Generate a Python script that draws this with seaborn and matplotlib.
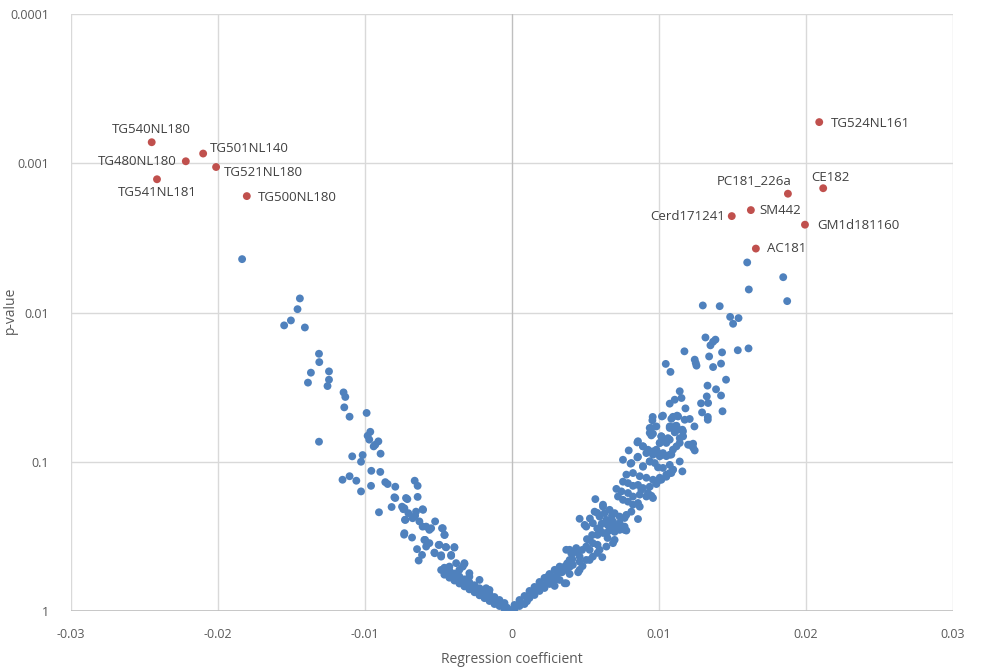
import matplotlib
matplotlib.use("Agg")
import matplotlib.pyplot as plt
import seaborn as sns
import pandas as pd

# ---------------- data ----------------
blue_x = [
    # left branch
    -0.01836, -0.01443, -0.01459, -0.01504, -0.01550, -0.01409, -0.01313, -0.01311, -0.01368, -0.01245,
    -0.01245, -0.01388, -0.01255, -0.01146, -0.01134, -0.01141, -0.01105, -0.00989, -0.01313, -0.00964,
    -0.00982, -0.00971, -0.00909, -0.00930, -0.00941, -0.00894, -0.01087, -0.01016, -0.01027, -0.01153,
    -0.01105, -0.01059, -0.01027, -0.00957, -0.00896, -0.00959, -0.00862, -0.00846, -0.00794, -0.00794,
    -0.00721, -0.00905, -0.00712, -0.00642, -0.00662, -0.00642, -0.00819, -0.00748, -0.00732, -0.00705,
    -0.00728, -0.00605, -0.00659, -0.00630, -0.00608, -0.00523, -0.00550, -0.00476, -0.00458, -0.00734,
    -0.00680, -0.00591, -0.00562, -0.00499, -0.00451, -0.00392, -0.00646, -0.00612, -0.00635, -0.00584,
    -0.00526, -0.00482, -0.00414, -0.00324, -0.00482, -0.00800, -0.00739, -0.00653, -0.00608, -0.00725,
    -0.00676, -0.00584, -0.00562, -0.00471, -0.00732, -0.00596, -0.00494, -0.00460, -0.00392, -0.00528,
    -0.00482, -0.00448, -0.00414, -0.00324, -0.00426, -0.00358, -0.00290, -0.00221, -0.00176, -0.00335,
    -0.00267, -0.00199, -0.00131, -0.00085, -0.00017, -0.00460, -0.00460, -0.00426, -0.00426, -0.00392,
    -0.00392, -0.00358, -0.00358, -0.00324, -0.00324, -0.00290, -0.00290, -0.00255, -0.00255, -0.00221,
    -0.00221, -0.00187, -0.00187, -0.00153, -0.00153, -0.00119, -0.00119, -0.00085, -0.00085, -0.00051,
    -0.00051, -0.00380, -0.00335, -0.00290, -0.00153,
    -0.00443, -0.00410, -0.00375, -0.00340, -0.00306, -0.00272, -0.00238, -0.00204, -0.00170, -0.00136,
    -0.00102, -0.00068, -0.00034, 0.00003,
    # right branch
    0.01600, 0.01845, 0.01611, 0.01872, 0.01298, 0.01413, 0.01484, 0.01541, 0.01504, 0.01316,
    0.01384, 0.01368, 0.01350, 0.01173, 0.01429, 0.01536, 0.01609, 0.01341, 0.01243, 0.01250,
    0.01255, 0.01422, 0.01368, 0.01046, 0.01078, 0.01456, 0.01330, 0.01388, 0.01325, 0.01422,
    0.01141, 0.01153, 0.01107, 0.01073, 0.01286, 0.01334, 0.01180, 0.01293, 0.01432, 0.01332,
    0.01332, 0.01020, 0.00957, 0.00955, 0.01095, 0.01130, 0.01175, 0.01209, 0.01241, 0.00937,
    0.00982, 0.01073, 0.01119, 0.00948, 0.01016, 0.01073, 0.01107, 0.01159, 0.01164, 0.01141,
    0.01119, 0.01095, 0.01050, 0.01005, 0.00982, 0.01027, 0.01073, 0.01198, 0.01232, 0.01243,
    0.00853, 0.00794, 0.00755, 0.00807, 0.00853, 0.00891, 0.00914, 0.00959, 0.01005, 0.00937,
    0.00891, 0.01141, 0.01159, 0.01095, 0.01073, 0.01050, 0.01005, 0.00982, 0.00959, 0.00925,
    0.00880, 0.00857, 0.00614, 0.00567, 0.00460, 0.00778, 0.00369,
    0.01027, 0.00948, 0.00937, 0.00959, 0.01084, 0.01123, 0.01107, 0.01073, 0.01130, 0.01163,
    0.01141, 0.01061, 0.01039, 0.01005, 0.01016, 0.01209, 0.01232, 0.00857, 0.00891, 0.00925,
    0.00959, 0.00993, 0.01027, 0.01050, 0.01084, 0.00812, 0.00857, 0.00891, 0.00937, 0.00971,
    0.00993, 0.01027, 0.01073, 0.01095, 0.00778, 0.00823, 0.00869, 0.00914, 0.00959, 0.01005,
    0.01050, 0.01084, 0.00755, 0.00789, 0.00823, 0.00857, 0.00891, 0.00937, 0.00982, 0.01016,
    0.00710, 0.00744, 0.00789, 0.00823, 0.00869, 0.00914, 0.00948, 0.00721, 0.00755, 0.00789,
    0.00823, 0.00857, 0.00869, 0.00619, 0.00664, 0.00698, 0.00732, 0.00778, 0.00812, 0.00596,
    0.00642, 0.00687, 0.00732, 0.00766,
    0.00505, 0.00550, 0.00596, 0.00642, 0.00687, 0.00732, 0.00369, 0.00414, 0.00460, 0.00505,
    0.00550, 0.00596, 0.00642, 0.00687, 0.00324, 0.00369, 0.00414, 0.00460, 0.00505, 0.00550,
    0.00324, 0.00358,
    0.00017, 0.00017, 0.00051, 0.00051, 0.00085, 0.00085, 0.00119, 0.00119, 0.00153, 0.00153,
    0.00187, 0.00187, 0.00221, 0.00221, 0.00255, 0.00255, 0.00290, 0.00290, 0.00290, 0.00392,
    0.00392, 0.00392, 0.00460, 0.00528, 0.00528, 0.00528, 0.00582, 0.00582, 0.00582, 0.00650,
    0.00650, 0.00698, 0.00698, 0.00766, 0.00766, 0.00494, 0.00562, 0.00619, 0.00630, 0.00392,
    0.00403, 0.00437, 0.00244, 0.00312, 0.00358,
    0.00102, 0.00136, 0.00170, 0.00204, 0.00238, 0.00272, 0.00306, 0.00340, 0.00375, 0.00410,
    0.00443, 0.00477, 0.00510, 0.00545, 0.00580, 0.00610, 0.00480, 0.00450, 0.00620, 0.00660,
    0.00710, 0.00680, 0.00580, 0.00530,
]
blue_p = [
    # left branch
    0.00439, 0.00805, 0.00950, 0.01130, 0.01220, 0.01260, 0.01890, 0.02150, 0.02530, 0.02480,
    0.02820, 0.02950, 0.03110, 0.03430, 0.03680, 0.04320, 0.04990, 0.04710, 0.07340, 0.06300,
    0.06700, 0.07110, 0.07300, 0.07690, 0.07890, 0.08830, 0.09200, 0.09020, 0.10000, 0.13200,
    0.12500, 0.13400, 0.15800, 0.11500, 0.11700, 0.14500, 0.13700, 0.14100, 0.14700, 0.17500,
    0.17500, 0.21800, 0.17800, 0.17200, 0.13400, 0.14500, 0.20100, 0.20000, 0.20500, 0.22100,
    0.24500, 0.21000, 0.23000, 0.25100, 0.27200, 0.25100, 0.27900, 0.27900, 0.30900, 0.30800,
    0.32200, 0.33400, 0.35100, 0.36100, 0.37300, 0.37300, 0.38500, 0.42100, 0.45900, 0.37000,
    0.41000, 0.42300, 0.42100, 0.48400, 0.53100, 0.17300, 0.20800, 0.21600, 0.20800, 0.24500,
    0.23900, 0.27200, 0.28600, 0.27900, 0.30100, 0.33400, 0.36000, 0.30900, 0.37600, 0.40600,
    0.43200, 0.37400, 0.42700, 0.47800, 0.50400, 0.53000, 0.58900, 0.61900, 0.70400, 0.65200,
    0.68700, 0.76000, 0.82200, 0.88800, 0.98500, 0.51300, 0.57100, 0.53600, 0.59800, 0.56100,
    0.62500, 0.58700, 0.65400, 0.61400, 0.68400, 0.64300, 0.71600, 0.67200, 0.74900, 0.70400,
    0.78500, 0.73600, 0.82000, 0.77000, 0.85700, 0.80600, 0.89800, 0.84400, 0.92600, 0.88400,
    0.97000, 0.47800, 0.50400, 0.55800, 0.72300,
    0.54000, 0.56000, 0.60000, 0.62000, 0.65000, 0.70000, 0.73000, 0.76000, 0.79000, 0.83000,
    0.87000, 0.91000, 0.95000, 0.99000,
    # right branch
    0.00462, 0.00580, 0.00701, 0.00839, 0.00897, 0.00907, 0.01070, 0.01090, 0.01190, 0.01470,
    0.01520, 0.01570, 0.01660, 0.01820, 0.01850, 0.01790, 0.01740, 0.01970, 0.02070, 0.02180,
    0.02270, 0.02200, 0.02320, 0.02210, 0.02500, 0.02820, 0.03090, 0.03270, 0.03650, 0.03600,
    0.03370, 0.03740, 0.03840, 0.04080, 0.04060, 0.04040, 0.04390, 0.04670, 0.04590, 0.05010,
    0.05230, 0.04970, 0.05010, 0.05280, 0.05000, 0.04970, 0.05230, 0.05170, 0.05800, 0.05940,
    0.05800, 0.05800, 0.05740, 0.06660, 0.06760, 0.07110, 0.06350, 0.06100, 0.06760, 0.07480,
    0.07890, 0.08300, 0.07480, 0.07480, 0.08300, 0.08750, 0.08970, 0.07690, 0.07570, 0.08400,
    0.07420, 0.08400, 0.09700, 0.10300, 0.09350, 0.07890, 0.08750, 0.08970, 0.09200, 0.09960,
    0.10700, 0.09960, 0.11600, 0.11300, 0.11900, 0.12600, 0.13200, 0.14100, 0.17500, 0.16200,
    0.15400, 0.24200, 0.43600, 0.17800, 0.24100, 0.28900, 0.65200,
    0.04910, 0.05940, 0.06410, 0.06490, 0.05160, 0.04910, 0.05780, 0.05940, 0.06090, 0.06260,
    0.06950, 0.06950, 0.07290, 0.07490, 0.06760, 0.07690, 0.08050, 0.07290, 0.07880, 0.08310,
    0.08520, 0.08730, 0.08950, 0.09170, 0.08950, 0.10200, 0.09260, 0.10800, 0.09950, 0.10200,
    0.10900, 0.11000, 0.10500, 0.11300, 0.12200, 0.11900, 0.12500, 0.12800, 0.13200, 0.12800,
    0.12200, 0.11900, 0.13600, 0.13900, 0.14500, 0.14300, 0.15000, 0.14700, 0.13900, 0.13200,
    0.15200, 0.15800, 0.16200, 0.17100, 0.16600, 0.17100, 0.16900, 0.17100, 0.18000, 0.18500,
    0.19400, 0.18900, 0.20000, 0.20000, 0.21000, 0.22100, 0.23300, 0.22700, 0.21600, 0.23300,
    0.24500, 0.25100, 0.25800, 0.27200,
    0.27200, 0.25800, 0.27900, 0.30100, 0.27200, 0.28600, 0.38900, 0.41000, 0.43200, 0.37000,
    0.35100, 0.38900, 0.37000, 0.35100, 0.50400, 0.53000, 0.49100, 0.46700, 0.45500, 0.43200,
    0.61900, 0.65200,
    0.91100, 0.97000, 0.84400, 0.92600, 0.79300, 0.89800, 0.73400, 0.81800, 0.69000, 0.78100,
    0.63900, 0.73400, 0.60000, 0.70100, 0.56500, 0.65900, 0.53000, 0.61900, 0.67900, 0.45500,
    0.50700, 0.56500, 0.53000, 0.33400, 0.38900, 0.45500, 0.30900, 0.36000, 0.40800, 0.26500,
    0.32400, 0.29500, 0.33400, 0.23800, 0.28600, 0.26500, 0.21600, 0.19400, 0.22100, 0.38900,
    0.41000, 0.37900, 0.58900, 0.53000, 0.50400,
    0.86000, 0.76000, 0.71000, 0.67000, 0.63000, 0.59000, 0.57000, 0.55000, 0.48000, 0.45000,
    0.40000, 0.39000, 0.33000, 0.31000, 0.28000, 0.26000, 0.50000, 0.55000, 0.30000, 0.29000,
    0.27000, 0.23000, 0.22000, 0.24000,
]

hit_names = ["TG540NL180", "TG501NL140", "TG480NL180", "TG521NL180", "TG541NL181", "TG500NL180",
             "TG524NL161", "PC181_226a", "CE182", "SM442", "Cerd171241", "GM1d181160", "AC181"]
hit_x = [-0.02451, -0.02101, -0.02219, -0.02013, -0.02415, -0.01804,
         0.02090, 0.01877, 0.02117, 0.01625, 0.01495, 0.01993, 0.01659]
hit_p = [0.000723, 0.000861, 0.000970, 0.001060, 0.001280, 0.001660,
         0.000530, 0.001600, 0.001470, 0.002060, 0.002260, 0.002580, 0.003730]

x_ticks = [-0.03, -0.02, -0.01, 0, 0.01, 0.02, 0.03]
x_tick_labels = ["-0.03", "-0.02", "-0.01", "0", "0.01", "0.02", "0.03"]
y_ticks = [0.0001, 0.001, 0.01, 0.1, 1]
y_tick_labels = ["0.0001", "0.001", "0.01", "0.1", "1"]

# label placement (offset in pixels, horizontal alignment)
label_style = {
    "TG540NL180": (0, 13, "center"),
    "TG501NL140": (7, 5, "left"),
    "TG480NL180": (-9, 0, "right"),
    "TG521NL180": (8, -5, "left"),
    "TG541NL181": (0, -13, "center"),
    "TG500NL180": (11, -1, "left"),
    "TG524NL161": (12, -1, "left"),
    "PC181_226a": (4, 13, "right"),
    "CE182": (7, 11, "center"),
    "SM442": (8, 0, "left"),
    "Cerd171241": (-7, 0, "right"),
    "GM1d181160": (12, -1, "left"),
    "AC181": (11, 0, "left"),
}

# ---------------- plot ----------------
sns.set_theme(style="white")
plt.rcParams["font.family"] = ["Open Sans", "DejaVu Sans"]

blue_df = pd.DataFrame({"coef": blue_x, "p": blue_p})
hit_df = pd.DataFrame({"coef": hit_x, "p": hit_p, "name": hit_names})

fig = plt.figure(figsize=(9.83, 6.69), dpi=100)
ax = fig.add_axes([71 / 983, 58 / 669, 882 / 983, 597 / 669])

ax.set_yscale("log")
ax.set_xlim(-0.03, 0.03)
ax.set_ylim(1, 0.0001)

grid_c = "#d9d9d9"
ax.set_axisbelow(True)
for xv in x_ticks:
    if xv != 0:
        ax.axvline(xv, color=grid_c, lw=1.0, zorder=0)
for yv in y_ticks:
    ax.axhline(yv, color=grid_c, lw=1.0, zorder=0)
ax.axvline(0, color="#bfbfbf", lw=1.0, zorder=0.5)
ax.axhline(1, color="#bfbfbf", lw=1.2, zorder=0.5)

sns.scatterplot(data=blue_df, x="coef", y="p", ax=ax, color="#4f81bd", s=32,
                linewidth=0, edgecolor="none", zorder=2, legend=False)
sns.scatterplot(data=hit_df, x="coef", y="p", ax=ax, color="#c0504d", s=32,
                linewidth=0, edgecolor="none", zorder=3, legend=False)

for name, xv, pv in zip(hit_names, hit_x, hit_p):
    dx, dy, ha = label_style[name]
    ax.annotate(name, (xv, pv), xytext=(dx, dy), textcoords="offset pixels",
                ha=ha, va="center", fontsize=9.5, color="#404040", zorder=4)

for sp in ax.spines.values():
    sp.set_visible(False)

ax.set_xticks(x_ticks)
ax.set_xticklabels(x_tick_labels)
ax.set_yticks(y_ticks)
ax.set_yticklabels(y_tick_labels)
ax.minorticks_off()
ax.tick_params(axis="both", length=0, labelsize=9, labelcolor="#595959")
ax.tick_params(axis="x", pad=12)
ax.tick_params(axis="y", pad=16)

ax.set_xlabel("Regression coefficient", fontsize=10, color="#595959", labelpad=8)
ax.set_ylabel("p-value", fontsize=10, color="#595959")
ax.yaxis.set_label_coords(-0.06, 0.504)

fig.savefig("out.png", dpi=100)
